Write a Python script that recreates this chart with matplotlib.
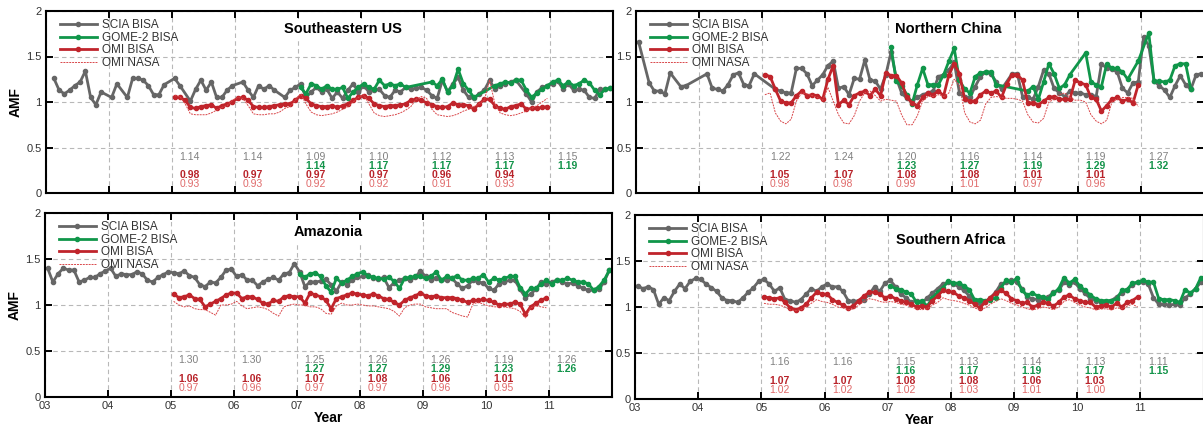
import numpy as np
import matplotlib
matplotlib.use("Agg")
import matplotlib.pyplot as plt

plt.rcParams['font.family'] = ['Liberation Sans', 'DejaVu Sans']

year_ticks = list(range(2003, 2013))
year_labels = ['03', '04', '05', '06', '07', '08', '09', '10', '11', '']
note_years = [2005, 2006, 2007, 2008, 2009, 2010, 2011]

# monthly AMF values, one row per year, None = no data that month
# ---- Southeastern US ----
se_scia = [None, 1.26, 1.13, 1.09, 1.13, 1.18, 1.22, 1.34, 1.05, 0.97, 1.11, None,
           1.05, 1.20, None, 1.05, 1.26, 1.26, 1.24, 1.18, 1.08, 1.08, 1.19, None,
           1.26, 1.18, None, 1.01, 1.14, 1.24, 1.13, 1.22, 1.05, 1.05, 1.13, 1.18,
           None, 1.22, 1.13, 1.05, 1.18, 1.14, 1.18, 1.13, None, 1.05, 1.13, 1.16,
           1.20, 1.05, 1.11, 1.16, 1.11, 1.14, 1.04, 1.11, 1.04, 1.13, 1.20, 1.11,
           1.18, 1.11, 1.13, 1.14, 1.07, 1.05, 1.13, 1.11, 1.16, 1.14, 1.15, 1.16,
           1.13, 1.07, 1.04, 1.24, 1.11, 1.20, 1.27, 1.13, 1.05, 1.04, 1.09, 1.13,
           1.24, 1.14, 1.18, 1.20, 1.22, 1.24, None, 1.09, 1.00, 1.11, 1.16, 1.18,
           1.20, 1.23, 1.14, 1.20, 1.13, 1.14, 1.13, 1.05, 1.04, 1.14, 1.14, 1.15]
se_gome = [1.16, 1.09, 1.20, 1.18, 1.14, 1.18, 1.14, 1.14, 1.16, 1.04, 1.11, 1.16,
           1.20, 1.16, 1.14, 1.24, 1.18, 1.20, 1.18, 1.20, 1.16, None, None, None,
           None, 1.22, 1.18, 1.25, 1.11, 1.18, 1.36, 1.20, 1.13, 1.05, None, None,
           None, 1.18, 1.20, 1.22, 1.21, 1.24, 1.24, 1.13, 1.05, 1.10, 1.14, 1.18,
           1.22, 1.24, 1.18, 1.22, 1.18, 1.20, 1.24, 1.21, 1.13, 1.08, 1.14, 1.15]
se_omi = [1.05, 1.05, 1.02, 0.94, 0.93, 0.95, 0.96, 0.97, 0.93, 0.96, 0.98, 1.00,
          1.04, 1.05, 1.02, 0.95, 0.94, 0.94, 0.95, 0.96, 0.97, 0.98, 0.98, 1.02,
          1.07, 1.04, 0.98, 0.96, 0.95, 0.95, 0.96, 0.94, 0.96, 0.98, 1.02, 1.05,
          1.07, 1.04, 0.98, 0.96, 0.95, 0.96, 0.96, 0.97, 0.98, 1.02, 1.03, 1.02,
          0.99, 0.97, 0.95, 0.94, 0.95, 0.99, 0.97, 0.97, 0.96, 0.92, 0.98, 1.03,
          1.03, 0.96, 0.93, 0.92, 0.95, 0.96, 0.98, 0.92, 0.93, 0.93, 0.94, 0.95]
se_nasa = [1.07, 1.06, 0.98, 0.87, 0.86, 0.86, 0.86, 0.88, 0.91, 0.94, 0.96, 1.02,
           1.05, 1.04, 0.96, 0.87, 0.86, 0.86, 0.87, 0.87, 0.89, 0.93, 0.95, 1.02,
           1.09, 0.98, 0.89, 0.86, 0.85, 0.86, 0.87, 0.89, 0.92, 0.95, 1.00, 1.05,
           1.08, 0.98, 0.88, 0.85, 0.84, 0.85, 0.86, 0.88, 0.91, 0.95, 1.03, 1.06,
           1.04, 0.92, 0.86, 0.85, 0.84, 0.85, 0.87, 0.90, 0.92, 0.95, 0.98, 1.02,
           1.24, 0.98, 0.88, 0.86, 0.85, 0.86, 0.88, 0.90, 0.93, 0.96, 1.00, 1.04]
se_notes = [['1.14', '1.14', '1.09', '1.10', '1.12', '1.13', '1.15'],
            ['', '', '1.14', '1.17', '1.17', '1.17', '1.19'],
            ['0.98', '0.97', '0.97', '0.97', '0.96', '0.94', ''],
            ['0.93', '0.93', '0.92', '0.92', '0.91', '0.93', '']]

# ---- Northern China ----
nc_scia = [1.66, None, 1.21, 1.12, 1.12, 1.09, 1.32, None, 1.17, 1.18, None, None,
           None, 1.31, 1.15, 1.14, 1.12, 1.19, 1.30, 1.32, 1.19, 1.18, 1.31, None,
           None, None, 1.14, 1.12, 1.10, 1.10, 1.37, 1.37, 1.31, 1.18, 1.24, 1.30,
           1.40, 1.45, 1.15, 1.17, 1.08, 1.26, 1.25, 1.46, 1.24, 1.23, 1.14, 1.30,
           1.55, 1.26, 1.10, 1.04, 1.01, 1.05, 1.08, 1.10, 1.12, 1.28, 1.30, 1.35,
           1.44, 1.10, 1.05, 1.05, 1.17, 1.28, 1.33, 1.31, 1.22, 1.14, None, 1.31,
           1.31, 1.06, 1.05, 1.03, 1.17, 1.35, 1.31, 1.15, 1.10, 1.06, 1.12, 1.10,
           1.10, 1.08, 1.08, 1.06, 1.42, 1.37, 1.36, 1.33, 1.15, 1.10, 1.21, 1.22,
           1.71, 1.62, 1.23, 1.18, 1.13, 1.05, 1.18, 1.29, 1.19, 1.14, 1.30, 1.31]
nc_gome = [1.60, 1.23, 1.18, 1.08, 0.98, 1.19, 1.37, 1.19, 1.19, 1.19, 1.30, 1.45,
           1.59, 1.24, 1.14, 1.10, 1.28, 1.32, 1.33, 1.33, 1.19, None, None, None,
           None, None, 1.12, 1.17, 1.03, 1.22, 1.42, 1.31, 1.15, 1.19, 1.30, None,
           None, 1.54, 1.22, 1.19, 1.17, 1.42, 1.37, 1.37, 1.33, 1.25, None, 1.45,
           None, 1.76, 1.23, 1.23, 1.22, 1.24, 1.40, 1.42, 1.42, 1.14, None, None]
nc_omi = [1.30, 1.28, 1.14, 1.01, 0.99, 0.99, 1.07, 1.12, 1.07, 1.08, 1.07, 1.03,
          1.25, 1.40, 0.97, 1.02, 0.97, 1.07, 1.10, 1.12, 1.07, 1.14, 1.07, 1.32,
          1.29, 1.29, 1.21, 1.05, 0.99, 0.96, 1.05, 1.10, 1.08, 1.12, 1.07, 1.30,
          1.42, 1.31, 1.03, 1.01, 1.01, 1.08, 1.12, 1.10, 1.12, 1.05, 1.20, 1.30,
          1.30, 1.24, 0.99, 0.99, 0.97, 1.01, 1.05, 1.06, 1.03, 1.03, 1.03, 1.24,
          1.21, 1.19, 1.05, 1.03, 0.90, 0.96, 1.03, 1.05, 1.01, 1.03, 0.99, 1.19]
nc_nasa = [1.08, 1.10, 0.88, 0.79, 0.76, 0.81, 1.01, 1.10, 1.09, 1.07, 1.05, 1.02,
           1.16, 1.01, 0.86, 0.77, 0.76, 0.85, 1.01, 1.10, 1.12, 1.07, 1.01, 1.03,
           1.02, 1.01, 0.86, 0.75, 0.75, 0.85, 1.01, 1.06, 1.06, 1.08, 1.06, 1.10,
           1.25, 1.18, 0.88, 0.78, 0.76, 0.80, 0.98, 1.05, 1.06, 1.05, 1.04, 1.04,
           1.03, 1.01, 0.86, 0.78, 0.77, 0.82, 1.00, 1.03, 1.08, 1.10, 1.05, 1.02,
           1.02, 1.00, 0.86, 0.79, 0.76, 0.80, 1.00, 1.03, 1.05, 1.05, 1.04, 0.95]
nc_notes = [['1.22', '1.24', '1.20', '1.16', '1.14', '1.19', '1.27'],
            ['', '', '1.23', '1.27', '1.19', '1.29', '1.32'],
            ['1.05', '1.07', '1.08', '1.08', '1.01', '1.01', ''],
            ['0.98', '0.98', '0.99', '1.01', '0.97', '0.96', '']]

# ---- Amazonia ----
am_scia = [1.40, 1.25, 1.34, 1.40, 1.38, 1.38, 1.25, 1.27, 1.30, 1.30, 1.34, 1.37,
           1.40, 1.31, 1.34, 1.33, 1.33, 1.36, 1.34, 1.27, 1.25, 1.30, 1.33, 1.36,
           1.35, 1.34, 1.37, 1.32, 1.30, 1.22, 1.20, 1.25, 1.24, 1.30, 1.38, 1.39,
           1.31, 1.33, 1.27, 1.27, 1.21, 1.25, 1.28, 1.30, 1.27, 1.34, 1.35, 1.45,
           1.36, 1.20, 1.25, 1.25, 1.26, 1.28, 1.22, 1.15, 1.25, 1.22, 1.27, 1.30,
           1.31, 1.33, 1.29, 1.28, 1.30, 1.19, 1.24, 1.27, 1.29, 1.27, 1.30, 1.37,
           1.31, 1.27, 1.29, 1.27, 1.27, 1.29, 1.23, 1.18, 1.21, 1.27, 1.25, 1.24,
           1.18, 1.16, 1.23, 1.25, 1.27, 1.27, 1.17, 1.08, 1.12, 1.17, 1.25, 1.23,
           1.25, 1.27, 1.25, 1.23, 1.24, 1.21, 1.18, 1.16, 1.16, 1.17, 1.25, 1.38]
am_gome = [1.34, 1.30, 1.34, 1.35, 1.31, 1.21, 1.14, 1.29, 1.24, 1.27, 1.31, 1.34,
           1.36, 1.32, 1.30, 1.29, 1.28, 1.30, 1.26, 1.18, 1.29, 1.30, 1.31, 1.31,
           1.29, 1.31, 1.36, 1.27, 1.31, 1.29, 1.32, 1.27, 1.27, 1.29, 1.29, 1.33,
           1.25, 1.29, 1.27, 1.29, 1.31, 1.31, 1.19, 1.12, 1.18, 1.18, 1.23, 1.27,
           1.23, 1.27, 1.27, 1.29, 1.27, 1.25, 1.25, 1.23, 1.16, 1.20, 1.27, 1.38]
am_omi = [1.12, 1.08, 1.09, 1.11, 1.07, 1.06, 0.98, 1.01, 1.04, 1.07, 1.11, 1.13,
          1.13, 1.07, 1.09, 1.09, 1.06, 1.02, 1.01, 1.05, 1.04, 1.09, 1.10, 1.09,
          1.09, 1.02, 1.13, 1.11, 1.09, 1.05, 0.96, 1.07, 1.09, 1.11, 1.13, 1.12,
          1.11, 1.10, 1.12, 1.10, 1.07, 1.06, 1.03, 1.00, 1.05, 1.08, 1.10, 1.13,
          1.10, 1.09, 1.10, 1.08, 1.08, 1.08, 1.07, 1.05, 1.03, 1.05, 1.05, 1.06,
          1.05, 1.03, 1.00, 1.01, 1.01, 1.03, 1.01, 0.90, 0.98, 1.02, 1.05, 1.08]
am_nasa = [1.04, 1.00, 0.98, 0.99, 0.96, 0.95, 0.95, 0.92, 0.89, 1.00, 1.00, 1.01,
           1.04, 0.99, 0.96, 0.97, 0.98, 0.97, 0.95, 0.91, 0.88, 0.98, 1.00, 1.01,
           1.00, 1.00, 0.98, 0.98, 0.96, 0.91, 0.90, 0.99, 1.02, 1.00, 1.00, 1.01,
           1.00, 0.99, 0.99, 0.98, 0.97, 0.96, 0.93, 0.88, 0.97, 1.00, 1.01, 1.01,
           0.98, 0.97, 0.96, 0.96, 0.96, 0.92, 0.90, 0.88, 0.87, 1.01, 1.03, 1.01,
           0.99, 0.98, 0.98, 0.98, 0.97, 0.96, 0.93, 0.86, 0.97, 0.99, 0.98, 0.97]
am_notes = [['1.30', '1.30', '1.25', '1.26', '1.26', '1.19', '1.26'],
            ['', '', '1.27', '1.27', '1.29', '1.23', '1.26'],
            ['1.06', '1.06', '1.07', '1.08', '1.06', '1.01', ''],
            ['0.97', '0.96', '0.97', '0.97', '0.96', '0.95', '']]

# ---- Southern Africa ----
sa_scia = [1.23, 1.20, 1.22, 1.19, 1.03, 1.10, 1.07, 1.17, 1.25, 1.20, 1.28, 1.31,
           1.30, 1.25, 1.21, 1.17, 1.10, 1.07, 1.07, 1.05, 1.10, 1.16, 1.21, 1.28,
           1.30, 1.25, 1.17, 1.21, 1.08, 1.07, 1.05, 1.08, 1.14, 1.20, 1.17, 1.22,
           1.25, 1.22, 1.22, 1.17, 1.07, 1.06, 1.07, 1.08, 1.14, 1.22, 1.17, 1.26,
           1.29, 1.22, 1.14, 1.10, 1.05, 1.07, 1.04, 1.10, 1.15, 1.20, 1.25, 1.27,
           1.25, 1.22, 1.18, 1.12, 1.05, 1.04, 1.05, 1.10, 1.16, 1.25, 1.27, 1.29,
           1.27, 1.20, 1.11, 1.09, 1.08, 1.10, 1.11, 1.16, 1.18, 1.27, 1.24, 1.27,
           1.20, 1.15, 1.09, 1.07, 1.05, 1.05, 1.07, 1.11, 1.15, 1.19, 1.24, 1.27,
           1.27, 1.25, 1.10, 1.03, 1.03, 1.02, 1.03, 1.02, 1.10, 1.14, 1.20, 1.27]
sa_gome = [1.23, 1.20, 1.19, 1.16, 1.14, 1.05, 1.07, 1.01, 1.10, 1.16, 1.21, 1.28,
           1.26, 1.26, 1.23, 1.19, 1.08, 1.08, 1.07, 1.08, 1.10, 1.21, 1.29, 1.27,
           1.31, 1.18, 1.13, 1.15, 1.12, 1.11, 1.09, 1.15, 1.20, 1.32, 1.26, 1.30,
           1.23, 1.18, 1.13, 1.09, 1.07, 1.07, 1.07, 1.09, 1.18, 1.19, 1.26, 1.27,
           1.29, 1.27, 1.27, 1.09, 1.08, 1.08, 1.07, 1.05, 1.19, 1.15, 1.20, 1.32]
sa_omi = [1.11, 1.10, 1.09, 1.10, 1.05, 0.99, 0.97, 0.99, 1.03, 1.10, 1.16, 1.14,
          1.14, 1.08, 1.05, 1.02, 0.99, 1.01, 1.07, 1.12, 1.16, 1.16, 1.14, 1.10,
          1.12, 1.09, 1.07, 1.05, 1.03, 1.00, 1.01, 1.00, 1.07, 1.12, 1.18, 1.17,
          1.16, 1.12, 1.10, 1.07, 1.03, 0.99, 1.05, 1.10, 1.15, 1.18, 1.15, 1.09,
          1.07, 1.04, 1.05, 1.00, 1.02, 1.05, 1.04, 1.01, 1.05, 1.11, 1.13, 1.09,
          1.07, 1.05, 1.05, 1.00, 1.01, 1.02, 1.00, 1.04, 1.00, 1.05, 1.07, 1.11]
sa_nasa = [1.04, 1.03, 1.03, 1.02, 1.00, 0.97, 0.96, 0.97, 1.00, 1.04, 1.08, 1.06,
           1.05, 1.03, 1.00, 0.99, 0.97, 0.98, 1.02, 1.06, 1.09, 1.08, 1.06, 1.05,
           1.06, 1.05, 1.03, 1.02, 1.00, 0.98, 0.97, 0.98, 1.02, 1.05, 1.10, 1.08,
           1.07, 1.06, 1.04, 1.02, 0.99, 0.97, 0.99, 1.03, 1.06, 1.09, 1.07, 1.04,
           1.02, 1.00, 0.98, 0.97, 0.98, 1.00, 0.99, 0.97, 1.00, 1.06, 1.08, 1.05,
           1.02, 1.00, 0.99, 0.97, 0.98, 0.98, 0.97, 0.99, 0.98, 1.01, 1.03, 1.00]
sa_notes = [['1.16', '1.16', '1.15', '1.13', '1.14', '1.13', '1.11'],
            ['', '', '1.16', '1.17', '1.19', '1.17', '1.15'],
            ['1.07', '1.07', '1.08', '1.08', '1.06', '1.03', ''],
            ['1.02', '1.02', '1.02', '1.03', '1.01', '1.00', '']]

SCIA_COLOR = '#666666'
GOME_COLOR = '#10964a'
OMI_COLOR = '#c0242b'
NASA_COLOR = '#d9474a'
NOTE_COLORS = ['#808080', '#13944a', '#b8232a', '#e06a6a']
NOTE_WEIGHTS = ['normal', 'bold', 'bold', 'normal']
NOTE_Y = [0.40, 0.30, 0.20, 0.10]


def monthly(start, vals):
    t = start + (np.arange(len(vals)) + 0.5) / 12.0
    v = np.array([np.nan if x is None else x for x in vals], dtype=float)
    ok = ~np.isnan(v)
    return t[ok], v[ok]


def draw_panel(ax, title, title_xy, scia, gome, omi, nasa, notes, bottom, left):
    ax.set_xlim(2003, 2012)
    ax.set_ylim(0, 2)
    ax.set_axisbelow(True)
    ax.grid(True, color='#b8b8b8', linestyle=(0, (4, 3)), linewidth=0.8)

    t, v = monthly(2003, scia)
    ax.plot(t, v, '-o', color=SCIA_COLOR, lw=2.0, ms=3.0, label='SCIA BISA')
    t, v = monthly(2007, gome)
    ax.plot(t, v, '-o', color=GOME_COLOR, lw=2.0, ms=3.0, label='GOME-2 BISA')
    t, v = monthly(2005, omi)
    ax.plot(t, v, '-o', color=OMI_COLOR, lw=2.0, ms=3.0, label='OMI BISA')
    t, v = monthly(2005, nasa)
    ax.plot(t, v, color=NASA_COLOR, lw=0.7, linestyle=(0, (2, 1)), label='OMI NASA')

    for row in range(4):
        for yr, txt in zip(note_years, notes[row]):
            if txt:
                ax.text(yr + 0.12, NOTE_Y[row], txt, color=NOTE_COLORS[row],
                        fontweight=NOTE_WEIGHTS[row], fontsize=7.5,
                        ha='left', va='center')

    ax.text(title_xy[0], title_xy[1], title, transform=ax.transAxes,
            ha='center', va='center', fontsize=10.5, fontweight='bold',
            bbox=dict(facecolor='white', edgecolor='none', pad=2))

    ax.legend(loc='upper left', bbox_to_anchor=(0.024, 0.955), frameon=False,
              fontsize=8.5, handlelength=3.2, handletextpad=0.35, labelspacing=0.05,
              borderaxespad=0, borderpad=0, numpoints=1, labelcolor='#333333')

    ax.set_xticks(year_ticks)
    ax.set_yticks([0, 0.5, 1, 1.5, 2])
    ax.set_yticklabels(['0', '0.5', '1', '1.5', '2'])
    ax.tick_params(direction='in', top=True, right=True, length=5, width=1.4,
                   labelsize=8, labelcolor='#333333', pad=3)
    if bottom:
        ax.set_xticklabels(year_labels)
        ax.set_xlabel('Year', fontsize=10, fontweight='bold', labelpad=0)
    else:
        ax.tick_params(labelbottom=False)
    if left:
        ax.set_ylabel('AMF', fontsize=10, fontweight='bold', labelpad=3)
    for s in ax.spines.values():
        s.set_linewidth(1.5)


W, H = 1203.0, 426.0
fig = plt.figure(figsize=(W / 100, H / 100), dpi=100)

ax1 = fig.add_axes([46 / W, 1 - 193 / H, 567 / W, 182 / H])
ax2 = fig.add_axes([636 / W, 1 - 193 / H, 568 / W, 182 / H])
ax3 = fig.add_axes([45 / W, 1 - 397 / H, 567 / W, 184 / H])
ax4 = fig.add_axes([635 / W, 1 - 399 / H, 568.5 / W, 184 / H])

draw_panel(ax1, 'Southeastern US', (0.524, 0.90), se_scia, se_gome, se_omi, se_nasa,
           se_notes, False, True)
draw_panel(ax2, 'Northern China', (0.549, 0.90), nc_scia, nc_gome, nc_omi, nc_nasa,
           nc_notes, False, False)
draw_panel(ax3, 'Amazonia', (0.499, 0.897), am_scia, am_gome, am_omi, am_nasa,
           am_notes, True, True)
draw_panel(ax4, 'Southern Africa', (0.555, 0.864), sa_scia, sa_gome, sa_omi, sa_nasa,
           sa_notes, True, False)

fig.savefig('out.png', dpi=100)
